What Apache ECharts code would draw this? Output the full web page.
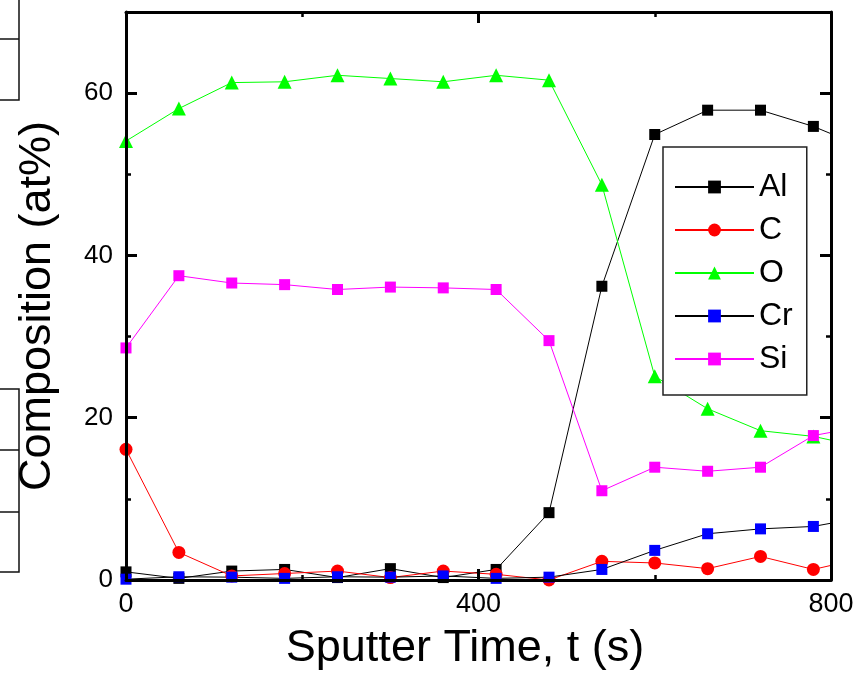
<!DOCTYPE html>
<html>
<head>
<meta charset="utf-8">
<script src="https://cdn.jsdelivr.net/npm/echarts@6/dist/echarts.min.js"></script>
<style>
  html, body { margin: 0; padding: 0; background: #fff; }
  #chart { width: 867px; height: 678px; }
</style>
</head>
<body>
<div id="chart"></div>
<script>
// Sputter depth profile: composition (at%) versus sputter time (s)
const sputterTime = [0, 60, 120, 180, 240, 300, 360, 420, 480, 540, 600, 660, 720, 780, 840];
const alValues = [1.0, 0.2, 1.1, 1.3, 0.3, 1.4, 0.3, 1.3, 8.3, 36.2, 54.9, 57.9, 57.9, 55.9, 53.2];
const cValues  = [16.1, 3.4, 0.5, 0.8, 1.1, 0.3, 1.1, 0.7, 0.0, 2.3, 2.1, 1.4, 2.9, 1.3, 2.8];
const oValues  = [54.1, 58.1, 61.3, 61.4, 62.2, 61.8, 61.4, 62.2, 61.6, 48.7, 25.1, 21.1, 18.4, 17.7, 16.3];
const crValues = [0.1, 0.4, 0.35, 0.2, 0.4, 0.35, 0.5, 0.2, 0.35, 1.3, 3.65, 5.7, 6.3, 6.6, 7.8];
const siValues = [28.6, 37.5, 36.6, 36.4, 35.8, 36.1, 36.0, 35.8, 29.5, 11.0, 13.9, 13.4, 13.9, 17.8, 19.0];

const xTickLabels = ['0', '400', '800'];
const yTickLabels = ['0', '20', '40', '60'];

const FONT = '"Liberation Sans", Arial, Helvetica, sans-serif';

function pairs(values) {
  return sputterTime.map((t, i) => [t, values[i]]);
}

function makeSeries(name, values, lineColor, markerColor, symbol, size) {
  return {
    name: name,
    type: 'line',
    data: pairs(values),
    symbol: symbol,
    symbolSize: size,
    showAllSymbol: true,
    clip: true,
    lineStyle: { color: lineColor, width: 1 },
    itemStyle: { color: markerColor, borderWidth: 0 },
    emphasis: { disabled: true },
    animation: false
  };
}

const tickStyle = { show: true, inside: true, length: 11, lineStyle: { color: '#000', width: 3 } };
const minorStyle = { show: true, splitNumber: 2, length: 5, lineStyle: { color: '#000', width: 2.5 } };
const axisLineStyle = { show: true, onZero: false, lineStyle: { color: '#000', width: 3 } };

const chart = echarts.init(document.getElementById('chart'), null, { renderer: 'canvas' });

chart.setOption({
  backgroundColor: '#fff',
  animation: false,
  grid: { left: 126, right: 36, top: 12, bottom: 98 },
  xAxis: [
    {
      type: 'value', position: 'bottom', min: 0, max: 800, interval: 400, z: 10,
      axisLine: axisLineStyle, axisTick: tickStyle, minorTick: minorStyle,
      splitLine: { show: false },
      axisLabel: {
        margin: 11, color: '#000', fontSize: 27, fontFamily: FONT,
        formatter: v => xTickLabels.includes(String(v)) ? String(v) : ''
      }
    },
    {
      type: 'value', position: 'top', min: 0, max: 800, interval: 400, z: 10,
      axisLine: axisLineStyle, axisTick: tickStyle, minorTick: minorStyle,
      splitLine: { show: false }, axisLabel: { show: false }
    }
  ],
  yAxis: [
    {
      type: 'value', position: 'left', min: 0, max: 70, interval: 20, z: 10,
      axisLine: axisLineStyle, axisTick: tickStyle, minorTick: minorStyle,
      splitLine: { show: false },
      axisLabel: {
        margin: 13, color: '#000', fontSize: 26, fontFamily: FONT,
        formatter: v => yTickLabels.includes(String(v)) ? String(v) : ''
      }
    },
    {
      type: 'value', position: 'right', min: 0, max: 70, interval: 20, z: 10,
      axisLine: axisLineStyle, axisTick: tickStyle, minorTick: minorStyle,
      splitLine: { show: false }, axisLabel: { show: false }
    }
  ],
  legend: {
    orient: 'vertical',
    left: 663, top: 147,
    padding: [24, 14, 20, 11],
    itemWidth: 79, itemHeight: 16, itemGap: 11,
    borderColor: '#222', borderWidth: 1.5,
    backgroundColor: '#fff',
    selectedMode: false,
    textStyle: { color: '#000', fontSize: 32, fontFamily: FONT, padding: [0, 0, 0, 0] },
    data: ['Al', 'C', 'O', 'Cr', 'Si']
  },
  series: [
    makeSeries('Al', alValues, '#000000', '#000000', 'rect', 11),
    makeSeries('C', cValues, '#ff0000', '#ff0000', 'circle', 13),
    makeSeries('O', oValues, '#00ff00', '#00ff00', 'triangle', 14),
    makeSeries('Cr', crValues, '#000000', '#0000ff', 'rect', 11),
    makeSeries('Si', siValues, '#ff00ff', '#ff00ff', 'rect', 11)
  ],
  graphic: [
    // axis titles
    {
      type: 'text', x: 465, y: 649, z: 20,
      style: { text: 'Sputter Time, t (s)', fill: '#000', font: '45px ' + FONT, textAlign: 'center', textVerticalAlign: 'middle' }
    },
    {
      type: 'text', x: 38, y: 306, rotation: Math.PI / 2, z: 20,
      style: { text: 'Composition (at%)', fill: '#000', font: '45px ' + FONT, textAlign: 'center', textVerticalAlign: 'middle' }
    },
    // partial table outline at the left edge
    { type: 'polyline', z: 1, shape: { points: [[0, 39], [19, 39]] }, style: { stroke: '#111', lineWidth: 1.5, fill: null } },
    { type: 'polyline', z: 1, shape: { points: [[19, 0], [19, 100], [0, 100]] }, style: { stroke: '#111', lineWidth: 1.5, fill: null } },
    { type: 'polyline', z: 1, shape: { points: [[0, 389], [19, 389], [19, 572], [0, 572]] }, style: { stroke: '#111', lineWidth: 1.5, fill: null } },
    { type: 'polyline', z: 1, shape: { points: [[0, 450], [19, 450]] }, style: { stroke: '#111', lineWidth: 1.5, fill: null } },
    { type: 'polyline', z: 1, shape: { points: [[0, 512], [19, 512]] }, style: { stroke: '#111', lineWidth: 1.5, fill: null } }
  ]
});
</script>
</body>
</html>
